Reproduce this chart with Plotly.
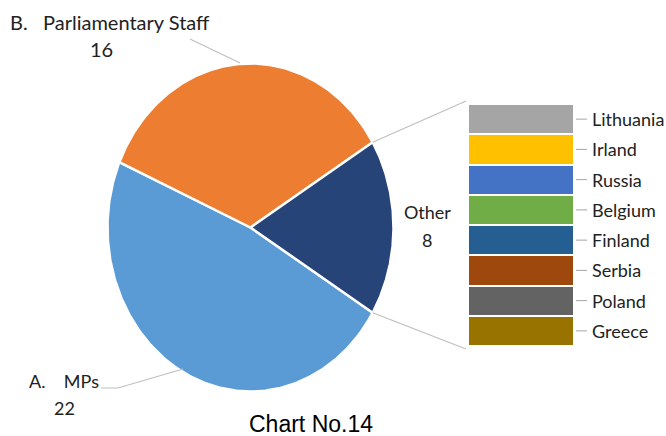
import numpy as np
import plotly.graph_objects as go

# Pie: staff groups
groups = ["A.    MPs", "B.   Parliamentary Staff", "Other"]
group_values = [22, 16, 8]
group_colors = ["#5B9BD5", "#ED7D31", "#264478"]

# Bar: breakdown of "Other" by country (bottom to top)
countries = ["Greece", "Poland", "Serbia", "Finland", "Belgium", "Russia", "Irland", "Lithuania"]
country_values = [1, 1, 1, 1, 1, 1, 1, 1]
country_colors = ["#997300", "#636363", "#9E480E", "#255E91", "#70AD47", "#4472C4", "#FFC000", "#A5A5A5"]

W, H = 666, 436
CX, CY, RX, RY = 250.5, 227.5, 143.0, 164.0   # pie centre and radii (pixel axes)
BAR_X0, BAR_X1, BAR_TOP, BAR_BOT = 468, 574, 104, 346

LABEL_FONT = dict(family="Lato, Open Sans, sans-serif", size=18, color="#222222")
BIG_LABEL_FONT = dict(family="Lato, Open Sans, sans-serif", size=20, color="#222222")

fig = go.Figure()

# Slice angles: "Other" is centred on the right-hand side
total = sum(group_values)
spans = [v / total * 360.0 for v in group_values]
other_span = spans[2]
# counter-clockwise order: Other -> Parliamentary Staff -> MPs
order = [2, 1, 0]
angle = -other_span / 2.0
slice_angles = {}
for i in order:
    slice_angles[i] = (angle, angle + spans[i])
    angle += spans[i]

for i in range(len(groups)):
    a0, a1 = slice_angles[i]
    th = np.radians(np.linspace(a0, a1, 200))
    xs = np.concatenate([[CX], CX + RX * np.cos(th), [CX]])
    ys = np.concatenate([[CY], CY - RY * np.sin(th), [CY]])
    fig.add_trace(go.Scatter(
        x=xs, y=ys, mode="lines", fill="toself",
        fillcolor=group_colors[i], line=dict(color="white", width=2.5),
        hoverinfo="text", text=f"{groups[i]}: {group_values[i]}",
        showlegend=False, xaxis="x", yaxis="y"))

# Stacked bar for the "Other" breakdown
for name, val, col in zip(countries, country_values, country_colors):
    fig.add_trace(go.Bar(
        x=[0], y=[val], name=name, marker=dict(color=col, line=dict(color="white", width=2.5)),
        width=1.0, showlegend=False, xaxis="x2", yaxis="y2",
        hovertemplate=f"{name}: %{{y}}<extra></extra>"))

n_units = sum(country_values)
unit_px = (BAR_BOT - BAR_TOP) / n_units
y2_lo = -(H - BAR_BOT) / unit_px
y2_hi = n_units + BAR_TOP / unit_px
bar_w = BAR_X1 - BAR_X0
x2_lo = -(BAR_X0 + bar_w / 2) / bar_w
x2_hi = (W - (BAR_X0 + bar_w / 2)) / bar_w

# Country labels with short leader ticks
shapes = []
annotations = []
cum = 0
for name, val in zip(countries, country_values):
    mid = cum + val / 2.0
    cum += val
    y_px = BAR_BOT - mid * unit_px
    shapes.append(dict(type="line", xref="x", yref="y", x0=576, x1=587, y0=y_px, y1=y_px,
                       line=dict(color="#A6A6A6", width=1)))
    annotations.append(dict(x=590, y=y_px, xref="x", yref="y", text=name, showarrow=False,
                            xanchor="left", yanchor="middle", font=LABEL_FONT))

# Connector lines from the "Other" slice to the bar
a0, a1 = slice_angles[2]
for ang, by in [(a1, BAR_TOP - 3), (a0, BAR_BOT + 3)]:
    px = CX + RX * np.cos(np.radians(ang))
    py = CY - RY * np.sin(np.radians(ang))
    shapes.append(dict(type="line", xref="x", yref="y", x0=px, y0=py, x1=466, y1=by,
                       line=dict(color="#BFBFBF", width=1.2)))

# Leader lines for the outside pie labels
shapes.append(dict(type="line", xref="x", yref="y", x0=190, y0=39, x1=240, y1=63,
                   line=dict(color="#BFBFBF", width=1.2)))
shapes.append(dict(type="path", xref="x", yref="y", path="M 101 388 L 118 388 L 183 369",
                   line=dict(color="#BFBFBF", width=1.2)))

annotations += [
    dict(x=8, y=22, text=f"{groups[1]}", showarrow=False, xanchor="left", yanchor="middle",
         font=BIG_LABEL_FONT),
    dict(x=101, y=49, text=str(group_values[1]), showarrow=False, xanchor="center",
         yanchor="middle", font=BIG_LABEL_FONT),
    dict(x=27, y=381, text=f"{groups[0]}", showarrow=False, xanchor="left", yanchor="middle",
         font=LABEL_FONT),
    dict(x=64, y=408, text=str(group_values[0]), showarrow=False, xanchor="center",
         yanchor="middle", font=LABEL_FONT),
    dict(x=427, y=212, text=groups[2], showarrow=False, xanchor="center", yanchor="middle",
         font=LABEL_FONT),
    dict(x=427, y=240, text=str(group_values[2]), showarrow=False, xanchor="center",
         yanchor="middle", font=LABEL_FONT),
    dict(x=311, y=424, text="Chart No.14", showarrow=False, xanchor="center", yanchor="middle",
         font=dict(family="Liberation Sans, Arial, sans-serif", size=23, color="#000000")),
]

fig.update_layout(
    width=W, height=H, margin=dict(l=0, r=0, t=0, b=0),
    paper_bgcolor="white", plot_bgcolor="white",
    barmode="stack", bargap=0,
    xaxis=dict(range=[0, W], visible=False, fixedrange=True),
    yaxis=dict(range=[H, 0], visible=False, fixedrange=True),
    xaxis2=dict(range=[x2_lo, x2_hi], visible=False, overlaying="x", fixedrange=True),
    yaxis2=dict(range=[y2_lo, y2_hi], visible=False, overlaying="y", fixedrange=True),
    shapes=shapes, annotations=annotations,
)

fig.write_html("out.html")
